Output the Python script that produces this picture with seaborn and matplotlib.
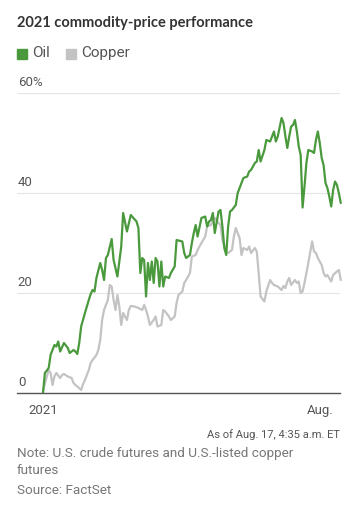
import pandas as pd
import matplotlib.pyplot as plt
import seaborn as sns

# trading-day index (0 = first trading day of 2021) and % change since start of year
oil_day = [0, 1, 3, 4, 6, 7, 8, 9, 11, 13, 14, 16, 17, 18, 19, 20, 22, 24, 25, 26,
           27, 28, 30, 31, 32, 33, 34, 36, 37, 39, 41, 42, 44, 46, 49, 50, 51, 52, 53, 54,
           55, 56, 57, 58, 59, 60, 61, 62, 63, 64, 66, 67, 69, 70, 73, 74, 75, 77, 78, 79,
           80, 81, 83, 85, 86, 87, 88, 89, 90, 92, 93, 94, 95, 96, 97, 98, 99, 101, 102, 104,
           105, 107, 108, 109, 111, 112, 113, 114, 116, 117, 119, 120, 121, 122, 123, 125, 126, 127, 128, 129,
           130, 131, 132, 133, 134, 135, 136, 137, 138, 139, 141, 142, 143, 144, 145, 146, 147, 148, 149, 150,
           151, 152, 153, 154, 155, 156]
oil_pct = [0, 4, 5, 7.6, 9.6, 9.3, 10.3, 8.3, 10, 9, 8, 8.6, 8.3, 7.8, 10, 13.3, 16, 18.6, 19.8, 20.6,
           20.3, 23, 26, 24.6, 22.6, 27, 27.6, 30.8, 26.6, 23.3, 29.3, 36, 32.3, 35.6, 34.3, 33, 24, 27, 26.6, 19.3,
           26, 22.6, 26.3, 22, 27, 26.3, 21.3, 26.3, 21.3, 23.3, 23, 24, 25.3, 30.6, 30.3, 28, 27, 27.6, 30, 32,
           33.6, 31.3, 35, 35.3, 33.3, 34.3, 34.6, 36, 32, 36.3, 36.6, 33.3, 29, 27.6, 33.3, 36.3, 36.6, 37.6, 40, 42,
           43, 43.3, 44.3, 44.6, 46, 46.3, 48.6, 46.3, 48.6, 50.6, 50.3, 51.3, 52.3, 50.3, 51.3, 55, 54, 51.3, 49, 51.3,
           53.3, 53.6, 54.6, 52.3, 49.3, 47.6, 37.1, 41.3, 46, 48.6, 48.3, 48, 50.6, 52.3, 50, 47, 45.6, 42, 41, 39.3,
           37.3, 40.6, 42.3, 41.6, 40, 38]

copper_day = [0, 2, 3, 4, 5, 6, 7, 9, 10, 11, 13, 15, 16, 17, 18, 20, 21, 22, 24, 25,
              26, 28, 29, 30, 31, 32, 34, 35, 36, 37, 38, 39, 40, 41, 42, 44, 45, 46, 48, 50,
              52, 53, 54, 55, 56, 58, 59, 60, 62, 63, 64, 66, 67, 69, 70, 71, 73, 74, 75, 77,
              78, 80, 81, 83, 85, 86, 88, 89, 90, 92, 93, 94, 96, 97, 99, 100, 101, 103, 104, 105,
              107, 108, 109, 111, 112, 113, 114, 116, 117, 119, 120, 121, 123, 125, 126, 127, 128, 129, 130, 132,
              133, 134, 135, 136, 137, 139, 141, 142, 143, 144, 146, 147, 148, 149, 151, 152, 154, 155, 156]
copper_pct = [0.3, 3.3, 4.6, 4, 1.6, 3.3, 4, 3, 3.6, 3.8, 3.3, 3, 2, 1.6, 1.3, 0.6, 1.8, 2.6, 4.6, 6,
              6.6, 7.6, 8.6, 10.6, 14.6, 16.6, 18.6, 21.6, 21.3, 18.6, 16.6, 19.6, 17.3, 13.6, 16, 14.6, 16.6, 17.4, 17.3, 17,
              16.6, 17.6, 16.6, 15.3, 13.6, 14.6, 15.3, 13.3, 13.6, 16.6, 16.3, 15.3, 14.6, 15.3, 18, 19.6, 20.3, 22, 22.6, 24,
              27.3, 27.6, 28.6, 30, 31.3, 33.3, 33.6, 34.5, 35, 34, 33.6, 30.6, 28.3, 28, 28.6, 31.3, 33, 31, 27.6, 29,
              28.6, 29.3, 28, 29, 28.3, 24, 19.3, 18.3, 20.3, 22.6, 22, 21.6, 21.3, 20.6, 21.4, 21, 22.3, 23, 21.6, 22.6,
              22, 22.3, 20, 20.3, 22, 26, 30.3, 28.3, 28, 27, 25.6, 24, 23.3, 23.6, 22.3, 23.6, 24.3, 24.6, 22.6]

tick_days = [0, 19, 38, 61, 82, 102, 124, 145]
tick_labels = ['2021', '', '', '', '', '', '', 'Aug.']
y_ticks = [0, 20, 40, 60]
y_labels = ['0', '20', '40', '60%']

OIL_COLOR = '#4a9a3d'
COPPER_COLOR = '#c3c3c3'


def plot_performance():
    sns.set_style('white')
    plt.rcParams['font.family'] = ['Liberation Sans Narrow', 'Roboto', 'DejaVu Sans']

    fig = plt.figure(figsize=(3.59, 5.12), dpi=100)
    ax = fig.add_axes([17 / 359, 1 - 393 / 512, 323 / 359, 300 / 512])

    oil = pd.DataFrame({'day': oil_day, 'pct': oil_pct})
    copper = pd.DataFrame({'day': copper_day, 'pct': copper_pct})
    sns.lineplot(data=copper, x='day', y='pct', color=COPPER_COLOR, linewidth=1.6, ax=ax, clip_on=False)
    sns.lineplot(data=oil, x='day', y='pct', color=OIL_COLOR, linewidth=1.6, ax=ax, clip_on=False)

    ax.set_xlim(-13.6, 155.6)
    ax.set_ylim(0, 60)
    ax.set_xlabel('')
    ax.set_ylabel('')

    # light gridlines, labels sit on top of them at the left
    for v, lab in zip(y_ticks, y_labels):
        if v > 0:
            ax.axhline(v, color='#e4e4e4', linewidth=0.8, zorder=0)
        ax.text(-13.2, v + 0.8, lab, ha='left', va='bottom', fontsize=9.5, color='#555555')
    ax.set_yticks([])

    for s in ['top', 'right', 'left']:
        ax.spines[s].set_visible(False)
    ax.spines['bottom'].set_color('#555555')
    ax.spines['bottom'].set_linewidth(1.0)

    ax.set_xticks(tick_days)
    ax.set_xticklabels(tick_labels, fontsize=9.5, color='#555555')
    ax.tick_params(axis='x', direction='out', length=3, width=0.8, color='#555555', pad=5)

    # title and legend
    fig.text(17 / 359, 1 - 23 / 512, '2021 commodity-price performance', fontsize=10.5,
             fontweight='bold', color='#333333', va='center', family=['Lato', 'DejaVu Sans'])
    fig.patches.append(plt.Rectangle((17 / 359, 1 - 59 / 512), 10 / 359, 10 / 512,
                                     transform=fig.transFigure, color=OIL_COLOR))
    fig.text(32 / 359, 1 - 53 / 512, 'Oil', fontsize=11, color='#555555', va='center')
    fig.patches.append(plt.Rectangle((66 / 359, 1 - 59 / 512), 10 / 359, 10 / 512,
                                     transform=fig.transFigure, color=COPPER_COLOR))
    fig.text(81 / 359, 1 - 53 / 512, 'Copper', fontsize=11, color='#555555', va='center')

    # footnotes
    fig.text(340 / 359, 1 - 435 / 512, 'As of Aug. 17, 4:35 a.m. ET', fontsize=8,
             color='#555555', ha='right', va='center')
    fig.text(17 / 359, 1 - 453 / 512, 'Note: U.S. crude futures and U.S.-listed copper',
             fontsize=9.7, color='#777777', va='center')
    fig.text(17 / 359, 1 - 471 / 512, 'futures', fontsize=9.7, color='#777777', va='center')
    fig.text(17 / 359, 1 - 490 / 512, 'Source: FactSet', fontsize=9.7, color='#777777', va='center')

    fig.savefig('out.png', dpi=100, facecolor='white')


if __name__ == "__main__":
    plot_performance()
